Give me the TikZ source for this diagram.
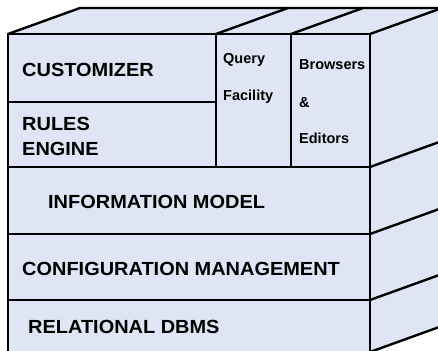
\documentclass[tikz,border=0pt]{standalone}
\usepackage{fontspec}
\setmainfont{Liberation Sans}
\newfontfamily\bigfont{Liberation Sans}[FakeStretch=1.05]
\definecolor{facefill}{RGB}{224,229,245}
\tikzset{
  edge/.style={line width=2.4pt, line join=miter, line cap=butt},
  biglabel/.style={anchor=base west, inner sep=0pt, font=\bigfont\bfseries\fontsize{19}{19}\selectfont},
  smalllabel/.style={anchor=base west, inner sep=0pt, font=\bfseries\fontsize{14.5}{14.5}\selectfont}
}
\begin{document}
\begin{tikzpicture}[x=1pt,y=-1pt]
\useasboundingbox (0,0) rectangle (438,350);
\begin{scope}
\clip (0,0) rectangle (438,350);
% faces
\fill[facefill] (8,34) -- (80,8) -- (442,8) -- (442,326) -- (370,352) -- (8,352) -- cycle;
% top face
\draw[edge] (8,34) -- (80,8) -- (442,8);
\draw[edge] (216,34) -- (288,8);
\draw[edge] (291,34) -- (363,8);
\draw[edge] (370,34) -- (442,8);
% front face
\draw[edge] (8,352) -- (8,34) -- (370,34) -- (370,352);
\draw[edge] (8,102) -- (216,102);
\draw[edge] (216,34) -- (216,167);
\draw[edge] (291,34) -- (291,167);
\draw[edge] (8,167) -- (370,167);
\draw[edge] (8,234) -- (370,234);
\draw[edge] (8,300) -- (370,300);
% right face
\draw[edge] (370,167) -- (442,141);
\draw[edge] (370,234) -- (442,208);
\draw[edge] (370,300) -- (442,274);
\draw[edge] (370,352) -- (442,326);
\end{scope}
% labels
\node[biglabel] (cust) at (22,77) {CUSTOMIZER};
\node[biglabel] (rules) at (22,130) {RULES};
\node[biglabel] (engine) at (22,155) {ENGINE};
\node[smalllabel] (query) at (223,63.5) {Query};
\node[smalllabel] (facility) at (223,100) {Facility};
\node[smalllabel] (browsers) at (299,70) {Browsers};
\node[smalllabel] (amp) at (299,107.5) {\&};
\node[smalllabel] (editors) at (299,143.5) {Editors};
\node[biglabel] (info) at (48,208) {INFORMATION MODEL};
\node[biglabel] (config) at (22,275) {CONFIGURATION MANAGEMENT};
\node[biglabel] (rdbms) at (28,333) {RELATIONAL DBMS};
\end{tikzpicture}
\end{document}
